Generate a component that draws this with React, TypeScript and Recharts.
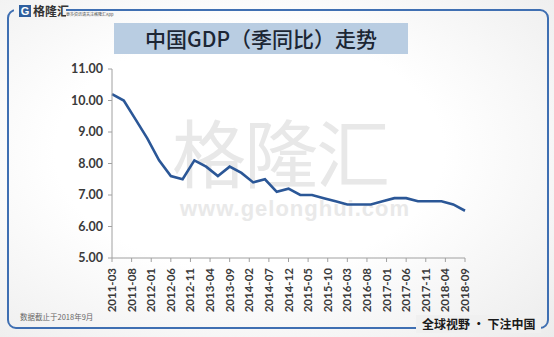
import React from 'react'
import { LineChart, Line, XAxis, YAxis } from 'recharts'

// quarterly GDP growth, % yoy
const quarters = [
  '2011-03', '2011-06', '2011-09', '2011-12',
  '2012-03', '2012-06', '2012-09', '2012-12',
  '2013-03', '2013-06', '2013-09', '2013-12',
  '2014-03', '2014-06', '2014-09', '2014-12',
  '2015-03', '2015-06', '2015-09', '2015-12',
  '2016-03', '2016-06', '2016-09', '2016-12',
  '2017-03', '2017-06', '2017-09', '2017-12',
  '2018-03', '2018-06', '2018-09',
]
const gdpYoy = [
  10.2, 10.0, 9.4, 8.8,
  8.1, 7.6, 7.5, 8.1,
  7.9, 7.6, 7.9, 7.7,
  7.4, 7.5, 7.1, 7.2,
  7.0, 7.0, 6.9, 6.8,
  6.7, 6.7, 6.7, 6.8,
  6.9, 6.9, 6.8, 6.8,
  6.8, 6.7, 6.5,
]
const xTickLabels = [
  '2011-03', '2011-08', '2012-01', '2012-06', '2012-11', '2013-04', '2013-09',
  '2014-02', '2014-07', '2014-12', '2015-05', '2015-10', '2016-03', '2016-08',
  '2017-01', '2017-06', '2017-11', '2018-04', '2018-09',
]
const yTicks = [5, 6, 7, 8, 9, 10, 11]

// months since 2011-03
const monthIdx = (s: string) => {
  const [y, m] = s.split('-').map(Number)
  return (y - 2011) * 12 + (m - 3)
}

const data = quarters.map((q, i) => ({ m: monthIdx(q), v: gdpYoy[i] }))
const xTicks = xTickLabels.map(monthIdx)
const labelFor: Record<number, string> = {}
xTickLabels.forEach((l) => (labelFor[monthIdx(l)] = l))

const AXIS_FONT = 'Lato, "Liberation Sans", sans-serif'
const CJK = '"Noto Sans CJK SC", sans-serif'

const XTick = ({ x, y, payload }: any) => (
  <text
    x={0}
    y={0}
    transform={`translate(${x + 4},${y + 4}) rotate(-90)`}
    textAnchor="end"
    fontSize={11.5}
    fontWeight={700}
    fill="#3a3a3a"
    fontFamily={AXIS_FONT}
  >
    {labelFor[payload.value]}
  </text>
)

const App: React.FC = () => {
  return (
    <div
      style={{
        position: 'absolute',
        left: 0,
        top: 0,
        width: 554,
        height: 337,
        overflow: 'hidden',
        background:
          'radial-gradient(ellipse at 45% 45%, #ffffff 45%, #ececec 100%)',
      }}
    >
      {/* frame */}
      <div
        style={{
          position: 'absolute',
          left: 7,
          top: 9,
          width: 538,
          height: 316,
          border: '2px solid #3f6fb2',
          borderRadius: 9,
        }}
      />
      {/* logo */}
      <div
        style={{
          position: 'absolute',
          left: 14,
          top: 2,
          width: 52,
          height: 18,
          background: '#f4f4f4',
        }}
      />
      <div
        style={{
          position: 'absolute',
          left: 19,
          top: 5,
          width: 12,
          height: 12,
          background: '#2f5f9e',
          color: '#fff',
          fontSize: 11,
          fontWeight: 700,
          lineHeight: '12px',
          textAlign: 'center',
          fontFamily: 'Arial, sans-serif',
        }}
      >
        G
      </div>
      <div
        style={{
          position: 'absolute',
          left: 33,
          top: 3,
          fontSize: 12,
          fontWeight: 700,
          color: '#333',
          fontFamily: CJK,
          lineHeight: '15px',
        }}
      >
        格隆汇
      </div>
      <div
        style={{
          position: 'absolute',
          left: 66,
          top: 12,
          fontSize: 4,
          color: '#555',
          fontFamily: CJK,
          background: '#f4f4f4',
          lineHeight: '5px',
        }}
      >
        更多资讯请关注格隆汇App
      </div>
      {/* title */}
      <div
        style={{
          position: 'absolute',
          left: 114,
          top: 23,
          width: 294,
          height: 31,
          background: '#b9cde2',
          color: '#1c2634',
          fontFamily: CJK,
          fontWeight: 500,
          fontSize: 21,
          lineHeight: '31px',
          textAlign: 'center',
        }}
      >
        中国GDP（季同比）走势
      </div>
      {/* watermark */}
      <div
        style={{
          position: 'absolute',
          left: 172,
          top: 115,
          fontFamily: CJK,
          fontSize: 74,
          color: '#e8e8e8',
          letterSpacing: -2,
          lineHeight: '70px',
        }}
      >
        格隆汇
      </div>
      <div
        style={{
          position: 'absolute',
          left: 180,
          top: 199,
          fontFamily: '"Liberation Sans", sans-serif',
          fontWeight: 700,
          fontSize: 22,
          color: '#e9e9e9',
          letterSpacing: 1,
          lineHeight: '20px',
        }}
      >
        www.gelonghui.com
      </div>
      <div style={{ position: 'absolute', left: 0, top: 0 }}>
        <LineChart
          width={554}
          height={337}
          data={data}
          margin={{ top: 69, right: 89, left: 62, bottom: 29 }}
        >
          <XAxis
            dataKey="m"
            type="number"
            domain={[0, 90]}
            ticks={xTicks}
            interval={0}
            height={50}
            tick={<XTick />}
            tickSize={4}
            stroke="#a0a0a0"
            tickLine={{ stroke: '#a0a0a0' }}
          />
          <YAxis
            domain={[5, 11]}
            ticks={yTicks}
            interval={0}
            width={50}
            tickSize={4}
            tickMargin={5}
            stroke="#a0a0a0"
            tickFormatter={(v: number) => v.toFixed(2)}
            tick={{
              fontSize: 12.5,
              fontWeight: 700,
              fill: '#3a3a3a',
              fontFamily: AXIS_FONT,
            }}
          />
          <Line
            type="linear"
            dataKey="v"
            stroke="#2b5797"
            strokeWidth={2.6}
            dot={false}
            isAnimationActive={false}
          />
        </LineChart>
      </div>
      {/* footer */}
      <div
        style={{
          position: 'absolute',
          left: 20,
          top: 311,
          fontFamily: CJK,
          fontSize: 7.5,
          color: '#666',
        }}
      >
        数据截止于2018年9月
      </div>
      <div
        style={{
          position: 'absolute',
          left: 416,
          top: 315,
          padding: '0 6px',
          background: '#f0f0f0',
          fontFamily: CJK,
          fontSize: 12,
          fontWeight: 700,
          color: '#1a1a1a',
          lineHeight: '18px',
        }}
      >
        全球视野 • 下注中国
      </div>
    </div>
  )
}

export default App
